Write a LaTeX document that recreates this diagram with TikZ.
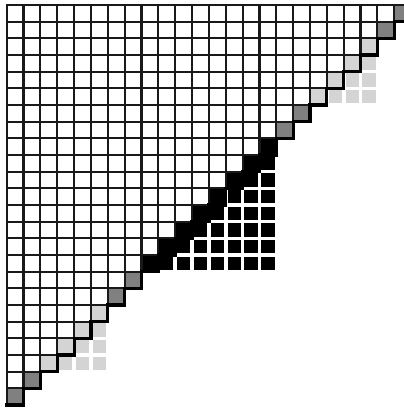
\documentclass[tikz,border=0pt]{standalone}
\definecolor{dgray}{RGB}{128,128,128}
\definecolor{lgray}{RGB}{212,212,212}
\begin{document}
\begin{tikzpicture}[x=0.75pt,y=-0.75pt,
  gridline/.style={draw=black!90,line width=1.6},
  stair/.style={draw=black,line width=2.4,line cap=rect}]
\useasboundingbox (0,0) rectangle (403,409);
\def\ox{6.7}\def\oy{5}\def\sx{16.85}\def\sy{16.67}
% cells above the diagonal
\foreach \r in {0,...,22}{
  \pgfmathtruncatemacro\cmax{22-\r}
  \foreach \c in {0,...,\cmax}{
    \draw[gridline,fill=white] ({\ox+\c*\sx},{\oy+\r*\sy}) rectangle ++(\sx,\sy);
  }
}
% diagonal cells
\foreach \r/\col in {0/dgray,1/dgray,2/lgray,3/lgray,4/lgray,5/lgray,6/dgray,7/dgray,
  8/black,9/black,10/black,11/black,12/black,13/black,14/black,15/black,
  16/dgray,17/dgray,18/lgray,19/lgray,20/lgray,21/lgray,22/dgray,23/dgray}{
  \draw[gridline,fill=\col] ({\ox+(23-\r)*\sx},{\oy+\r*\sy}) rectangle ++(\sx,\sy);
}
% filled blocks below the diagonal
\foreach \R/\n/\col in {2/4/lgray,8/8/black,18/4/lgray}{
  \pgfmathtruncatemacro\nm{\n-1}
  \foreach \i in {1,...,\nm}{
    \pgfmathtruncatemacro\jstart{\n-\i}
    \foreach \j in {\jstart,...,\nm}{
      \pgfmathsetmacro\rr{\R+\i}
      \pgfmathsetmacro\cc{23-\R-\n+1+\j}
      \fill[\col] ({\ox+\cc*\sx+1.8},{\oy+\rr*\sy+1.7}) rectangle ++({\sx-3.6},{\sy-3.4});
    }
  }
}
% staircase outline
\foreach \r in {0,...,23}{
  \draw[stair] ({\ox+(24-\r)*\sx},{\oy+\r*\sy}) -- ({\ox+(24-\r)*\sx},{\oy+(\r+1)*\sy}) -- ({\ox+(23-\r)*\sx},{\oy+(\r+1)*\sy});
}
\end{tikzpicture}
\end{document}
